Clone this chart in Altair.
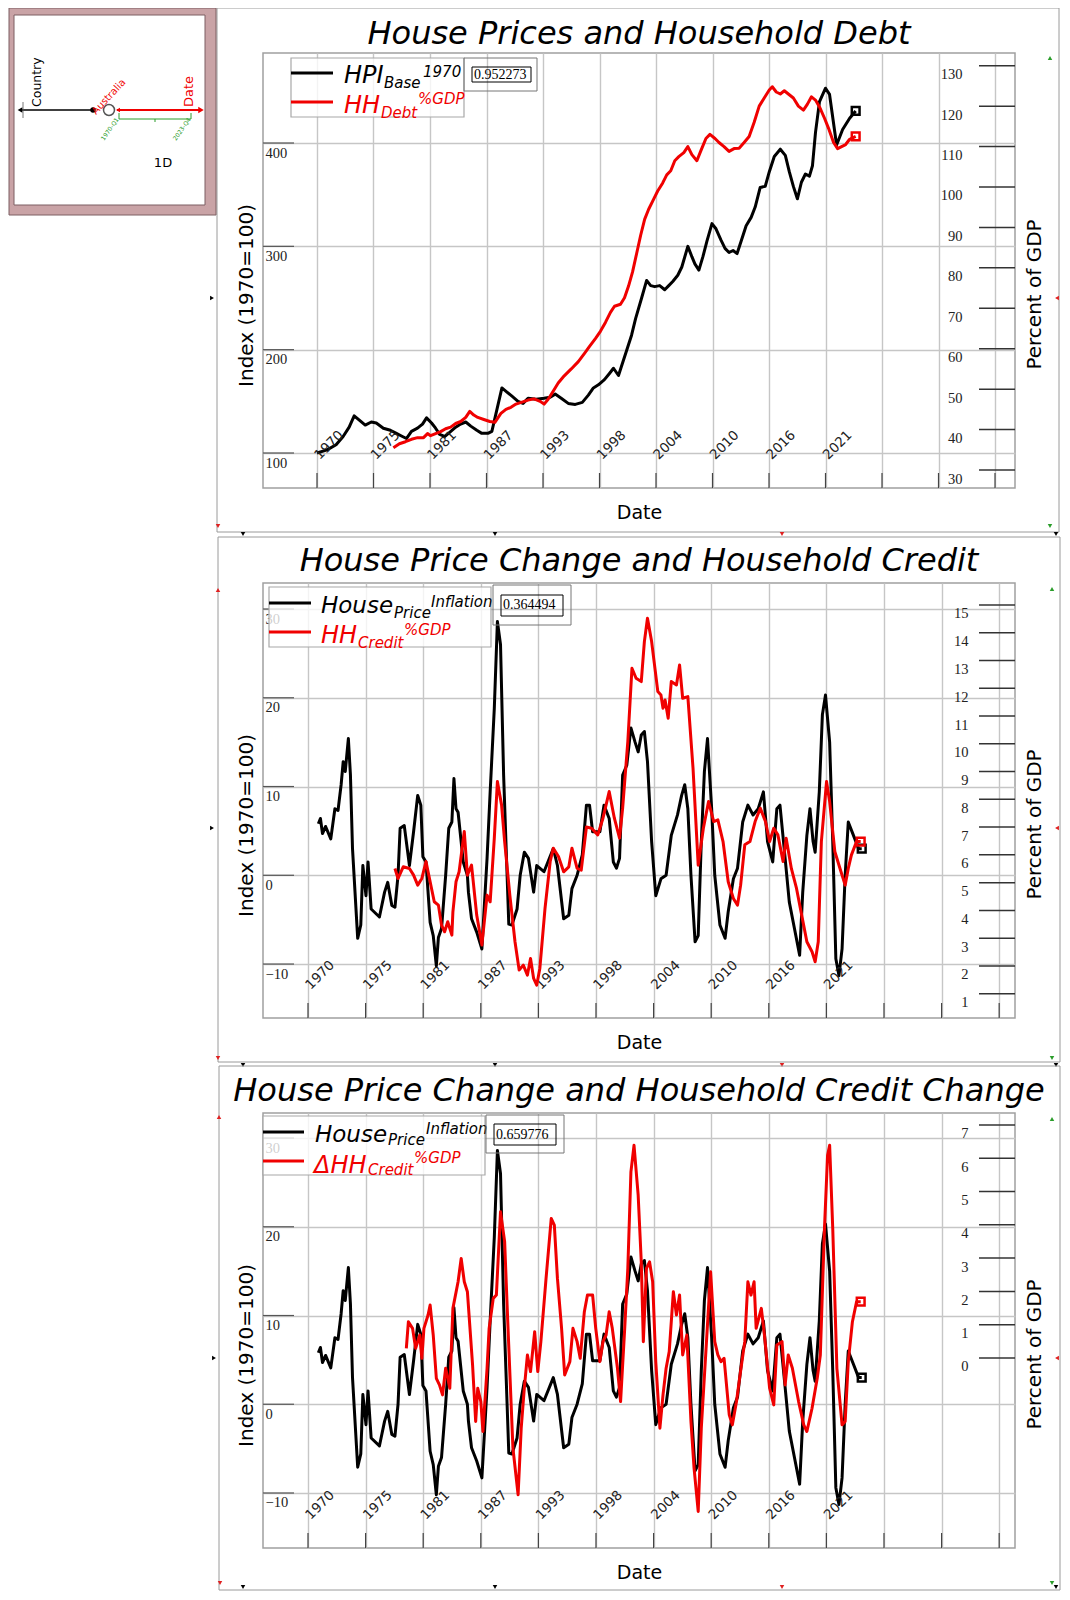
import altair as alt
import pandas as pd

# ---------------- data ----------------
hpi = [(1970.0,100),(1971.0,103),(1971.9,108),(1972.6,116),(1973.2,125),(1973.7,136),(1974.3,131),(1974.8,127),
       (1975.4,130),(1975.9,129),(1976.6,124),(1977.3,122),(1977.9,119),(1978.5,116),(1978.9,114),(1979.4,121),
       (1980.0,124),(1980.5,128),(1980.9,134),(1981.4,129),(1981.8,124),(1982.2,118),(1982.7,116),(1983.2,120),
       (1983.8,125),(1984.3,128),(1984.8,130),(1985.3,126),(1985.9,122),(1986.4,119),(1987.0,119),(1987.4,121),
       (1988.4,163),(1988.9,159),(1989.4,155),(1990.0,150),(1990.5,148),(1991.0,153),(1991.8,152),(1992.6,153),
       (1993.2,154),(1993.7,157),(1994.3,153),(1995.0,148),(1995.7,147),(1996.4,149),(1997.0,156),(1997.5,163),
       (1998.0,166),(1998.6,171),(1999.1,177),(1999.5,182),(2000.0,175),(2000.5,190),(2000.8,199),(2001.3,214),
       (2001.7,230),(2002.3,250),(2002.8,267),(2003.2,262),(2003.6,261),(2004.1,262),(2004.6,258),(2005.0,262),
       (2005.4,266),(2005.9,272),(2006.3,280),(2006.9,300),(2007.3,290),(2007.6,283),(2008.0,277),(2008.4,290),
       (2008.8,305),(2009.3,322),(2009.7,317),(2010.2,306),(2010.6,298),(2011.0,294),(2011.4,296),(2011.8,293),
       (2012.2,305),(2012.7,320),(2013.2,328),(2013.6,338),(2014.1,357),(2014.6,358),(2015.0,372),(2015.5,387),
       (2016.1,394),(2016.6,388),(2017.0,372),(2017.4,358),(2017.8,346),(2018.2,362),(2018.6,370),(2019.0,368),
       (2019.3,378),(2019.6,410),(2020.0,440),(2020.6,453),(2021.0,447),(2021.7,398),(2022.3,413),(2023.0,424),
       (2023.6,431)]

hh_debt = [(1977.6,35.5),(1978.2,36.5),(1978.8,37.0),(1979.4,37.6),(1980.0,38.0),(1980.6,38.0),(1981.0,39.0),
           (1981.3,38.5),(1981.8,39.0),(1982.3,39.5),(1982.8,40.2),(1983.3,40.6),(1983.8,41.5),(1984.3,42.0),
           (1984.8,43.0),(1985.2,44.5),(1985.6,43.6),(1986.0,43.0),(1986.6,42.5),(1987.2,42.0),(1987.7,41.8),
           (1988.3,44.0),(1988.8,45.0),(1989.3,45.5),(1989.8,46.3),(1990.4,46.8),(1991.0,47.3),(1991.6,47.6),
           (1992.2,47.0),(1992.6,46.3),(1993.0,47.5),(1993.5,49.5),(1994.0,51.5),(1994.6,53.3),(1995.3,55.0),
           (1996.0,56.8),(1996.6,58.8),(1997.1,60.5),(1997.7,62.5),(1998.2,64.3),(1998.7,66.5),(1999.2,69.0),
           (1999.6,70.5),(2000.2,71.0),(2000.6,72.6),(2001.0,75.5),(2001.4,79.0),(2001.8,83.5),(2002.2,88.0),
           (2002.6,92.0),(2003.0,94.5),(2003.5,97.0),(2003.9,99.0),(2004.4,101.0),(2004.8,103.0),(2005.2,104.0),
           (2005.6,106.5),(2006.0,107.5),(2006.5,108.5),(2006.9,110.0),(2007.3,108.0),(2007.8,106.5),(2008.2,109.0),
           (2008.7,112.0),(2009.1,113.0),(2009.6,112.0),(2010.0,111.0),(2010.5,110.0),(2011.0,108.8),(2011.5,109.5),
           (2012.0,109.6),(2012.5,111.0),(2013.0,112.5),(2013.5,116.0),(2014.0,120.0),(2014.5,122.0),(2015.0,124.0),
           (2015.3,124.8),(2015.7,123.5),(2016.1,123.0),(2016.5,123.8),(2016.9,123.0),(2017.4,122.0),(2017.9,120.0),
           (2018.4,119.0),(2018.8,120.5),(2019.2,122.3),(2019.6,121.5),(2020.0,119.8),(2020.5,117.0),(2020.9,114.5),
           (2021.4,111.0),(2021.8,109.5),(2022.2,110.0),(2022.6,110.5),(2023.0,111.8),(2023.6,112.5)]

hp_inflation = [(1971.0,5.8),(1971.2,6.4),(1971.4,4.7),(1971.7,5.5),(1972.2,4.1),(1972.6,7.5),(1972.9,7.3),
                (1973.2,10.2),(1973.4,12.8),(1973.6,11.7),(1973.9,15.4),(1974.1,11.3),(1974.3,3.0),(1974.8,-7.1),
                (1975.1,-5.6),(1975.3,1.1),(1975.6,-2.3),(1975.8,1.5),(1976.1,-3.8),(1976.9,-4.7),(1977.4,-1.9),
                (1977.7,-0.8),(1978.1,-3.4),(1978.4,-3.6),(1978.7,0.0),(1978.9,5.3),(1979.3,5.6),(1979.8,1.1),
                (1980.2,4.9),(1980.6,9.0),(1980.9,7.9),(1981.1,2.1),(1981.4,1.5),(1981.8,-5.3),(1982.1,-6.8),
                (1982.4,-10.2),(1982.6,-7.0),(1982.9,-6.0),(1983.3,0.0),(1983.6,5.3),(1983.9,6.0),(1984.1,10.9),
                (1984.3,7.5),(1984.5,7.1),(1985.0,1.5),(1985.4,0.0),(1985.5,-1.9),(1985.8,-4.9),(1986.3,-6.4),
                (1986.8,-8.3),(1987.3,1.9),(1987.6,9.4),(1988.0,18.8),(1988.3,28.6),(1988.6,26.0),(1988.9,11.3),
                (1989.4,-5.5),(1989.7,-5.6),(1990.2,-3.8),(1990.5,0.0),(1990.9,2.6),(1991.3,1.9),(1991.8,-1.9),
                (1992.1,1.1),(1992.8,0.4),(1993.7,3.0),(1994.1,1.1),(1994.7,-4.9),(1995.2,-4.5),(1995.5,-1.5),
                (1996.0,0.0),(1996.5,2.3),(1996.9,7.9),(1997.2,7.9),(1997.5,4.9),(1998.2,4.9),(1998.6,7.9),
                (1999.1,6.4),(1999.5,1.5),(1999.8,0.8),(2000.1,1.9),(2000.4,11.3),(2000.8,12.4),(2001.2,16.6),
                (2001.6,15.0),(2001.9,13.9),(2002.2,15.8),(2002.5,16.2),(2002.8,12.8),(2003.2,3.8),(2003.6,-2.3),
                (2004.1,-0.4),(2004.6,0.0),(2005.1,4.5),(2005.7,6.8),(2006.1,9.0),(2006.4,10.2),(2006.7,7.5),
                (2007.0,0.0),(2007.4,-7.5),(2007.7,-6.8),(2008.0,3.8),(2008.3,11.7),(2008.6,15.4),(2009.0,7.5),
                (2009.3,0.0),(2009.8,-5.6),(2010.3,-7.1),(2010.6,-4.1),(2011.1,-0.4),(2011.5,0.8),(2012.0,6.0),
                (2012.5,7.9),(2013.0,6.8),(2013.5,7.5),(2014.0,9.4),(2014.4,3.8),(2014.9,1.5),(2015.3,7.5),
                (2015.6,7.9),(2016.1,1.9),(2016.5,-3.0),(2017.0,-6.0),(2017.5,-9.0),(2017.8,-1.9),(2018.2,4.5),
                (2018.5,7.5),(2018.8,3.8),(2019.0,2.6),(2019.4,9.4),(2019.7,18.1),(2020.0,20.3),(2020.4,15.0),
                (2020.7,3.8),(2021.0,-9.4),(2021.3,-11.3),(2021.6,-8.3),(2021.9,0.0),(2022.2,6.0),(2022.7,4.5),
                (2023.2,3.0),(2023.5,3.0)]

hh_credit = [(1978.4,5.51),(1978.7,5.15),(1979.2,5.57),(1979.8,5.51),(1980.2,5.27),(1980.6,4.91),(1981.0,5.15),
             (1981.4,5.76),(1981.9,4.85),(1982.2,4.31),(1982.6,4.19),(1982.9,3.47),(1983.2,3.23),(1983.5,3.59),
             (1983.9,3.11),(1984.0,3.95),(1984.3,5.03),(1984.6,5.39),(1985.1,6.84),(1985.4,5.27),(1985.8,5.63),
             (1986.3,3.83),(1986.8,2.75),(1987.3,4.55),(1987.6,4.31),(1988.0,6.60),(1988.3,8.64),(1988.7,7.80),
             (1989.0,6.48),(1989.5,4.55),(1990.0,2.87),(1990.4,1.85),(1990.8,2.03),(1991.2,1.67),(1991.5,2.27),
             (1991.8,1.55),(1992.1,1.31),(1992.4,1.91),(1992.9,4.07),(1993.4,5.76),(1993.7,6.24),(1994.2,5.94),
             (1994.7,5.39),(1995.2,5.57),(1995.5,6.24),(1996.0,5.51),(1996.4,5.45),(1996.9,7.00),(1997.4,6.96),
             (1998.0,6.72),(1998.5,7.32),(1999.1,8.28),(1999.6,7.32),(2000.1,6.60),(2000.4,7.68),(2000.9,10.08),
             (2001.3,12.72),(2001.7,12.36),(2002.2,12.24),(2002.5,13.68),(2002.8,14.52),(2003.2,13.68),(2003.8,11.88),
             (2004.1,11.76),(2004.3,11.28),(2004.5,11.58),(2004.8,10.92),(2005.1,12.24),(2005.6,12.12),(2005.9,12.84),
             (2006.2,11.64),(2006.7,11.70),(2007.2,9.12),(2007.7,5.63),(2008.2,6.96),(2008.7,7.92),(2009.2,7.20),
             (2009.6,7.26),(2010.1,6.48),(2010.6,5.03),(2011.1,4.43),(2011.5,4.19),(2011.8,4.91),(2012.2,6.36),
             (2012.7,6.48),(2013.2,7.20),(2013.7,7.68),(2014.2,7.20),(2014.6,6.48),(2015.0,6.96),(2015.4,6.72),
             (2015.9,5.76),(2016.2,6.60),(2016.7,5.51),(2017.2,4.79),(2017.7,3.83),(2018.2,2.87),(2018.7,2.51),
             (2019.0,2.15),(2019.3,2.87),(2019.6,6.48),(2020.1,8.64),(2020.4,7.92),(2020.9,6.12),(2021.4,5.51),
             (2021.9,4.91),(2022.2,5.51),(2022.5,5.99),(2023.0,6.48),(2023.4,6.48)]

hh_credit_change = [(1979.5,0.29),(1979.7,1.09),(1980.1,0.89),(1980.4,0.29),(1980.8,0.69),(1981.0,-0.01),
                    (1981.2,0.89),(1981.6,1.29),(1981.8,1.59),(1982.1,0.69),(1982.4,-0.61),(1982.7,-0.81),
                    (1983.0,-1.11),(1983.3,-0.31),(1983.7,-0.91),(1984.0,1.49),(1984.5,2.29),(1984.8,2.99),
                    (1985.1,2.29),(1985.4,1.99),(1985.9,-0.21),(1986.2,-1.91),(1986.4,-0.91),(1986.7,-1.31),
                    (1986.9,-2.21),(1987.3,-0.31),(1987.5,0.89),(1987.9,1.79),(1988.2,1.89),(1988.6,4.39),
                    (1989.0,3.49),(1989.3,1.09),(1989.8,-2.71),(1990.3,-4.11),(1990.6,-2.11),(1990.9,-0.91),
                    (1991.2,0.09),(1991.5,-0.41),(1991.9,0.79),(1992.2,-0.41),(1992.5,0.49),(1993.0,2.39),
                    (1993.5,4.19),(1993.8,3.99),(1994.1,2.39),(1994.5,0.89),(1994.8,-0.51),(1995.3,-0.11),
                    (1995.6,0.89),(1996.0,0.49),(1996.3,-0.01),(1996.7,1.39),(1997.0,1.89),(1997.5,1.89),
                    (1997.8,0.89),(1998.2,-0.11),(1998.5,0.49),(1998.8,0.69),(1999.1,1.39),(1999.4,0.89),
                    (1999.9,-0.31),(2000.2,-1.31),(2000.6,0.89),(2000.9,2.69),(2001.2,5.59),(2001.5,6.39),
                    (2001.9,4.89),(2002.2,2.89),(2002.4,0.49),(2002.7,2.69),(2003.0,2.89),(2003.3,2.29),
                    (2003.6,-0.11),(2004.0,-2.11),(2004.3,-1.11),(2004.6,-0.31),(2004.9,0.19),(2005.3,1.99),
                    (2005.6,1.29),(2005.9,1.89),(2006.2,0.09),(2006.6,0.69),(2007.0,-1.91),(2007.3,-3.31),
                    (2007.7,-4.61),(2008.0,-2.11),(2008.5,0.49),(2008.9,2.59),(2009.3,0.49),(2009.6,0.09),
                    (2009.9,-0.11),(2010.2,-0.01),(2010.7,-1.71),(2011.0,-2.01),(2011.4,-1.31),(2011.7,-0.61),
                    (2012.2,0.49),(2012.5,2.29),(2012.8,1.89),(2013.1,2.29),(2013.3,0.89),(2013.8,1.49),
                    (2014.1,0.69),(2014.6,-0.91),(2015.0,-1.41),(2015.3,0.39),(2015.8,0.49),(2016.1,-0.81),
                    (2016.4,0.09),(2016.8,-0.31),(2017.4,-1.31),(2017.9,-2.01),(2018.2,-2.21),(2018.7,-1.51),
                    (2019.2,-0.61),(2019.5,0.09),(2019.9,3.89),(2020.2,6.09),(2020.4,6.39),(2020.7,3.89),
                    (2021.1,-0.31),(2021.6,-2.01),(2021.9,-1.91),(2022.2,-0.11),(2022.6,1.09),(2023.0,1.69),
                    (2023.4,1.69)]

x_tick_labels = ["1970", "1975", "1981", "1987", "1993", "1998", "2004", "2010", "2016", "2021"]
p1_left_ticks = [100, 200, 300, 400]
p1_right_ticks = [30, 40, 50, 60, 70, 80, 90, 100, 110, 120, 130]
p2_left_ticks = [-10, 0, 10, 20, 30]
p2_right_ticks = [1, 2, 3, 4, 5, 6, 7, 8, 9, 10, 11, 12, 13, 14, 15]
p3_left_ticks = [-10, 0, 10, 20, 30]
p3_right_ticks = [0, 1, 2, 3, 4, 5, 6, 7]
panel_titles = ["House Prices and Household Debt",
                "House Price Change and Household Credit",
                "House Price Change and Household Credit Change"]
corr_values = ["0.952273", "0.364494", "0.659776"]

# ---------------- styling ----------------
SANS = "DejaVu Sans"
SERIF = "Liberation Serif"
RED = "#f00000"
GREEN = "#2a9d2a"
GRID = "#c6c6c6"
W, H = 752, 435
ONE = pd.DataFrame({"d": [0]})


def vrect(x, x2, y, y2, fill="white", fo=0.0, stroke="#9a9a9a", sw=1.0):
    return alt.Chart(ONE).mark_rect(fill=fill, fillOpacity=fo, stroke=stroke, strokeWidth=sw).encode(
        x=alt.value(x), x2=alt.value(x2), y=alt.value(y), y2=alt.value(y2))


def vline(x, x2, y, y2, color="black", sw=1.0):
    return alt.Chart(ONE).mark_rule(color=color, strokeWidth=sw).encode(
        x=alt.value(x), x2=alt.value(x2), y=alt.value(y), y2=alt.value(y2))


def vtext(s, x, y, size, color="black", style="normal", font=SANS, angle=0, align="left", baseline="alphabetic"):
    return alt.Chart(ONE).mark_text(text=s, fontSize=size, color=color, fontStyle=style, font=font,
                                    angle=angle, align=align, baseline=baseline).encode(
        x=alt.value(x), y=alt.value(y))


def vpoint(x, y, shape, color, size=22, filled=True, sw=1.0):
    return alt.Chart(ONE).mark_point(shape=shape, color=color, size=size, filled=filled,
                                     strokeWidth=sw, opacity=1).encode(x=alt.value(x), y=alt.value(y))


def frame_markers(ms):
    return [vpoint(x, y, shp, col, size=20) for x, y, shp, col in ms]


def legend(L, title_idx):
    parts = [vrect(*L["box"], fill="white", fo=0.78, stroke="#a8a8a8", sw=1.2),
             vline(L["lx"][0], L["lx"][1], L["y1"], L["y1"], "black", 3),
             vline(L["lx"][0], L["lx"][1], L["y2"], L["y2"], RED, 3)]
    for s, x, y, size, col in L["texts"]:
        parts.append(vtext(s, x, y, size, col, style="italic"))
    parts.append(vrect(*L["vout"], fo=0, stroke="#777777", sw=1))
    parts.append(vrect(*L["vin"], fo=0, stroke="black", sw=1))
    parts.append(vtext(corr_values[title_idx], L["vx"], L["vy"], 14, "black", font=SERIF))
    return parts


def diagram():
    return [vrect(-254, -47, -45, 162, fill="#c9a3a6", fo=1, stroke="#7d5f62", sw=1),
            vrect(-249, -58, -38, 152, fill="white", fo=1, stroke="#7d5f62", sw=1),
            vline(-243, -170, 57, 57, "black", 1.5),
            vpoint(-243, 57, "triangle-left", "black", size=30),
            vpoint(-170, 57, "circle", "black", size=30),
            vline(-240, -240, 49, 65, "#555555", 0.8),
            vtext("Country", -226, 54, 12.5, "black", angle=270, align="left", baseline="middle"),
            vpoint(-154, 57, "circle", "#555555", size=120, filled=False, sw=1.5),
            vline(-146, -62, 57, 57, RED, 2),
            vpoint(-62, 57, "triangle-right", RED, size=40),
            vpoint(-145, 57, "triangle-left", RED, size=22),
            vtext("Australia", -167, 62, 10, RED, angle=313, align="left"),
            vtext("Date", -74, 54, 13, RED, angle=270, align="left", baseline="middle"),
            vline(-144, -72, 66, 66, GREEN, 1),
            vline(-144, -144, 60, 66, GREEN, 1),
            vline(-72, -72, 60, 66, GREEN, 1),
            vline(-108, -108, 66, 69, GREEN, 1),
            vtext("1970-Q1", -159, 88, 6, GREEN, angle=305, align="left"),
            vtext("2023-Q4", -87, 88, 6, GREEN, angle=305, align="left"),
            vtext("1D", -100, 110, 13, "black", align="center", baseline="middle")]


def unzip(pairs):
    return pd.DataFrame({"yr": [p[0] for p in pairs], "v": [p[1] for p in pairs]})


def panel(P):
    xs = alt.Scale(domain=P["xdom"], nice=False, zero=False)
    ysl = alt.Scale(domain=P["ldom"], nice=False, zero=False)
    ysr = alt.Scale(domain=P["rdom"], nice=False, zero=False)
    xt = [round(1970 + k * P["step"], 4) for k in range(13)]
    xaxis = alt.Axis(values=xt, grid=True, gridColor=GRID, gridWidth=1.4, labels=False, ticks=False,
                     tickSize=0, domain=False, title="Date", titleFont=SANS, titleFontSize=19,
                     titleFontWeight="normal", titleColor="black", titleY=24, titleBaseline="middle")
    laxis = alt.Axis(values=P["lticks"], grid=True, gridColor=GRID, gridWidth=1.4, ticks=False, tickSize=0,
                     domain=False, labelAlign="left", labelBaseline="middle", labelPadding=-2, labelOffset=10,
                     labelFont=SERIF, labelFontSize=14.5, labelColor="#222222", labelOverlap=False,
                     title="Index (1970=100)", titleFont=SANS, titleFontSize=20, titleFontWeight="normal",
                     titleColor="black", titleAngle=270, titleX=-17, titleY=242, titleAlign="center",
                     titleBaseline="middle")
    raxis = alt.Axis(orient="right", values=P["rticks"], grid=False, ticks=False, tickSize=0, domain=False,
                     labelAlign="right", labelBaseline="middle", labelPadding=P["rpad"], labelOffset=9,
                     labelFont=SERIF, labelFontSize=14.5, labelColor="#222222", labelOverlap=False,
                     title="Percent of GDP", titleFont=SANS, titleFontSize=20, titleFontWeight="normal",
                     titleColor="black", titleAngle=270, titleX=19, titleY=241, titleAlign="center",
                     titleBaseline="middle")

    def X(f):
        return alt.X(f, type="quantitative", scale=xs, axis=xaxis)

    def YL(f):
        return alt.Y(f, type="quantitative", scale=ysl, axis=laxis)

    def YR(f):
        return alt.Y(f, type="quantitative", scale=ysr, axis=raxis)

    dfb = unzip(P["black"])
    dfr = unzip(P["red"])
    dfl = pd.DataFrame({"yr": xt[:len(x_tick_labels)], "lab": x_tick_labels})

    left = alt.layer(
        alt.Chart(dfb).mark_line(color="black", strokeWidth=3, strokeJoin="round").encode(x=X("yr"), y=YL("v")),
        alt.Chart(dfb.tail(1)).mark_point(shape="square", filled=False, size=60, strokeWidth=2.5,
                                          color="black", opacity=1).encode(x=X("yr"), y=YL("v")),
        alt.Chart(pd.DataFrame({"v": P["lticks"]})).mark_rule(color="#555555", strokeWidth=1.2).encode(
            y=YL("v"), x=alt.value(0), x2=alt.value(31)),
        alt.Chart(pd.DataFrame({"yr": xt})).mark_rule(color="#444444", strokeWidth=1.2).encode(
            x=X("yr"), y=alt.value(H - 15), y2=alt.value(H)),
        alt.Chart(dfl).mark_text(angle=315, align="left", baseline="alphabetic", font=SANS, fontSize=13.5,
                                 color="#222222", dx=4).encode(x=X("yr"), y=alt.value(H - 25), text="lab:N"),
    )
    right = alt.layer(
        alt.Chart(dfr).mark_line(color=RED, strokeWidth=3, strokeJoin="round").encode(x=X("yr"), y=YR("v")),
        alt.Chart(dfr.tail(1)).mark_point(shape="square", filled=False, size=60, strokeWidth=2.5,
                                          color=RED, opacity=1).encode(x=X("yr"), y=YR("v")),
        alt.Chart(pd.DataFrame({"v": P["rticks"]})).mark_rule(color="#333333", strokeWidth=1.5).encode(
            y=YR("v"), x=alt.value(W - 36), x2=alt.value(W)),
    )
    deco = [vrect(*P["frame"], fo=0, stroke="#9a9a9a", sw=1)]
    deco += frame_markers(P["markers"])
    deco.append(vtext(panel_titles[P["idx"]], W / 2, P["ty"], 32, "black", style="italic", align="center"))
    deco += legend(P["legend"], P["idx"])
    deco += P.get("extra", [])
    return alt.layer(left, right, alt.layer(*deco)).resolve_scale(y="independent").properties(width=W, height=H)


def row_markers(y):
    return [(-20, y, "triangle-down", "black"), (232, y, "triangle-down", "black"),
            (519, y, "triangle-down", "#e02020"), (793, y, "triangle-down", "black")]


P1 = dict(idx=0, black=hpi, red=hh_debt, step=5.622, xdom=[1964.627, 2039.453], ty=-9,
          ldom=[66.13, 487.1], rdom=[25.55, 133.14], lticks=p1_left_ticks, rticks=p1_right_ticks, rpad=-53,
          frame=(-46, 796, -45, 479),
          markers=[(-51, 245, "triangle-right", "black"), (-45, 473, "triangle-down", "#e02020"),
                   (787, 5, "triangle-up", GREEN), (787, 473, "triangle-down", GREEN),
                   (794, 245, "triangle-left", "#e02020")] + row_markers(481),
          legend=dict(box=(28, 201, 5, 64), lx=(28, 70), y1=20, y2=49,
                      texts=[("HPI", 81, 30, 24, "black"), ("Base", 121, 35, 15, "black"),
                             ("1970", 160, 24, 15, "black"), ("HH", 81, 60, 24, RED),
                             ("Debt", 118, 65, 15, RED), ("%GDP", 155, 51, 15, RED)],
                      vout=(201, 274, 5, 38), vin=(209, 268, 14, 29), vx=211, vy=26),
          extra=diagram())

P2 = dict(idx=1, black=hp_inflation, red=hh_credit, step=5.565, xdom=[1965.652, 2038.309], ty=-12,
          ldom=[-16.08, 32.93], rdom=[0.125, 15.79], lticks=p2_left_ticks, rticks=p2_right_ticks, rpad=-47,
          frame=(-45, 797, -46, 479),
          markers=[(-51, 245, "triangle-right", "black"), (-45, 7, "triangle-up", "#e02020"),
                   (789, 6, "triangle-up", GREEN), (794, 245, "triangle-left", "#e02020"),
                   (-45, 475, "triangle-down", "#e02020"), (789, 475, "triangle-down", GREEN)] + row_markers(482),
          legend=dict(box=(6, 228, 4, 64), lx=(6, 48), y1=20, y2=49,
                      texts=[("House", 58, 30, 23, "black"), ("Price", 131, 35, 15, "black"),
                             ("Inflation", 168, 24, 15, "black"), ("HH", 58, 60, 24, RED),
                             ("Credit", 95, 65, 15, RED), ("%GDP", 141, 52, 15, RED)],
                      vout=(230, 308, 2, 42), vin=(238, 300, 12, 33), vx=240, vy=26))

P3 = dict(idx=2, black=hp_inflation, red=hh_credit_change, step=5.565, xdom=[1965.652, 2038.309], ty=-12,
          ldom=[-16.2, 32.82], rdom=[-5.71, 7.36], lticks=p3_left_ticks, rticks=p3_right_ticks, rpad=-47,
          frame=(-44, 797, -47, 477),
          markers=[(-49, 245, "triangle-right", "black"), (-44, 4, "triangle-up", "#e02020"),
                   (789, 6, "triangle-up", GREEN), (794, 245, "triangle-left", "#e02020"),
                   (-43, 470, "triangle-down", "#e02020"), (789, 470, "triangle-down", GREEN)] + row_markers(474),
          legend=dict(box=(0, 222, 3, 62), lx=(0, 41), y1=19, y2=48,
                      texts=[("House", 52, 29, 23, "black"), ("Price", 125, 32, 15, "black"),
                             ("Inflation", 163, 21, 15, "black"), ("\u0394HH", 51, 60, 24, RED),
                             ("Credit", 105, 62, 15, RED), ("%GDP", 151, 50, 15, RED)],
                      vout=(223, 301, 2, 40), vin=(231, 293, 11, 32), vx=233, vy=26))

chart = alt.vconcat(panel(P1), panel(P2), panel(P3), spacing=95, bounds="flush").resolve_scale(
    x="independent", y="independent").properties(
    padding={"left": -1, "top": -2, "right": 0, "bottom": 0}, background="white").configure_view(
    stroke="#a0a0a0", strokeWidth=1.5)

chart.save("out.html", embed_options={"renderer": "svg", "actions": False})
